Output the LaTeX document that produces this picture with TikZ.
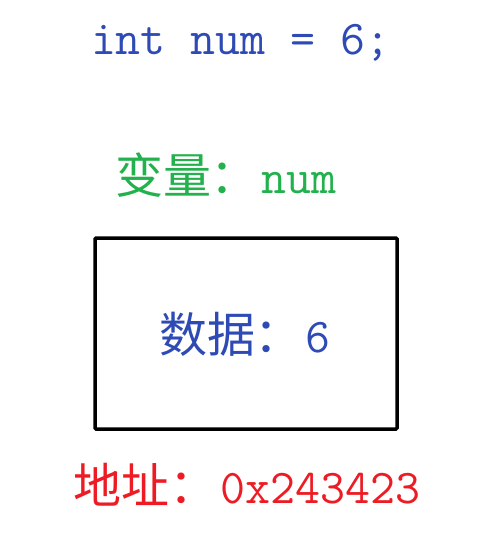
\documentclass[tikz,border=0pt]{standalone}
\usepackage{fontspec}
\newfontfamily\cjk{Noto Sans CJK SC}
\definecolor{cblue}{RGB}{46,74,180}
\definecolor{cgreen}{RGB}{34,177,76}
\definecolor{cred}{RGB}{237,28,36}
\newcommand{\zh}[1]{{\fontsize{48}{50}\selectfont\cjk #1}}
\newcommand{\lt}[1]{{\fontsize{48.5}{50}\selectfont\ttfamily #1}}
\begin{document}
\begin{tikzpicture}[x=1pt,y=-1pt,
  lbl/.style={anchor=base west,inner sep=0pt,outer sep=0pt},
  cell/.style={draw=black,line width=3.5pt,rounded corners=1pt}]
\useasboundingbox (0,0) rectangle (488,542);
\node[lbl,text=cblue] (code) at (91,54) {\lt{int num = 6;}};
\node[lbl,text=cgreen] (var) at (115,193) {\zh{变量：}\hspace{3pt}\lt{num}};
\draw[cell] (95,238) rectangle (397,429);
\node[lbl,text=cblue] (data) at (159,352) {\zh{数据：}\hspace{3pt}\lt{6}};
\node[lbl,text=cred] (addr) at (74,503) {\zh{地址：}\hspace{3pt}\lt{0x243423}};
\end{tikzpicture}
\end{document}
